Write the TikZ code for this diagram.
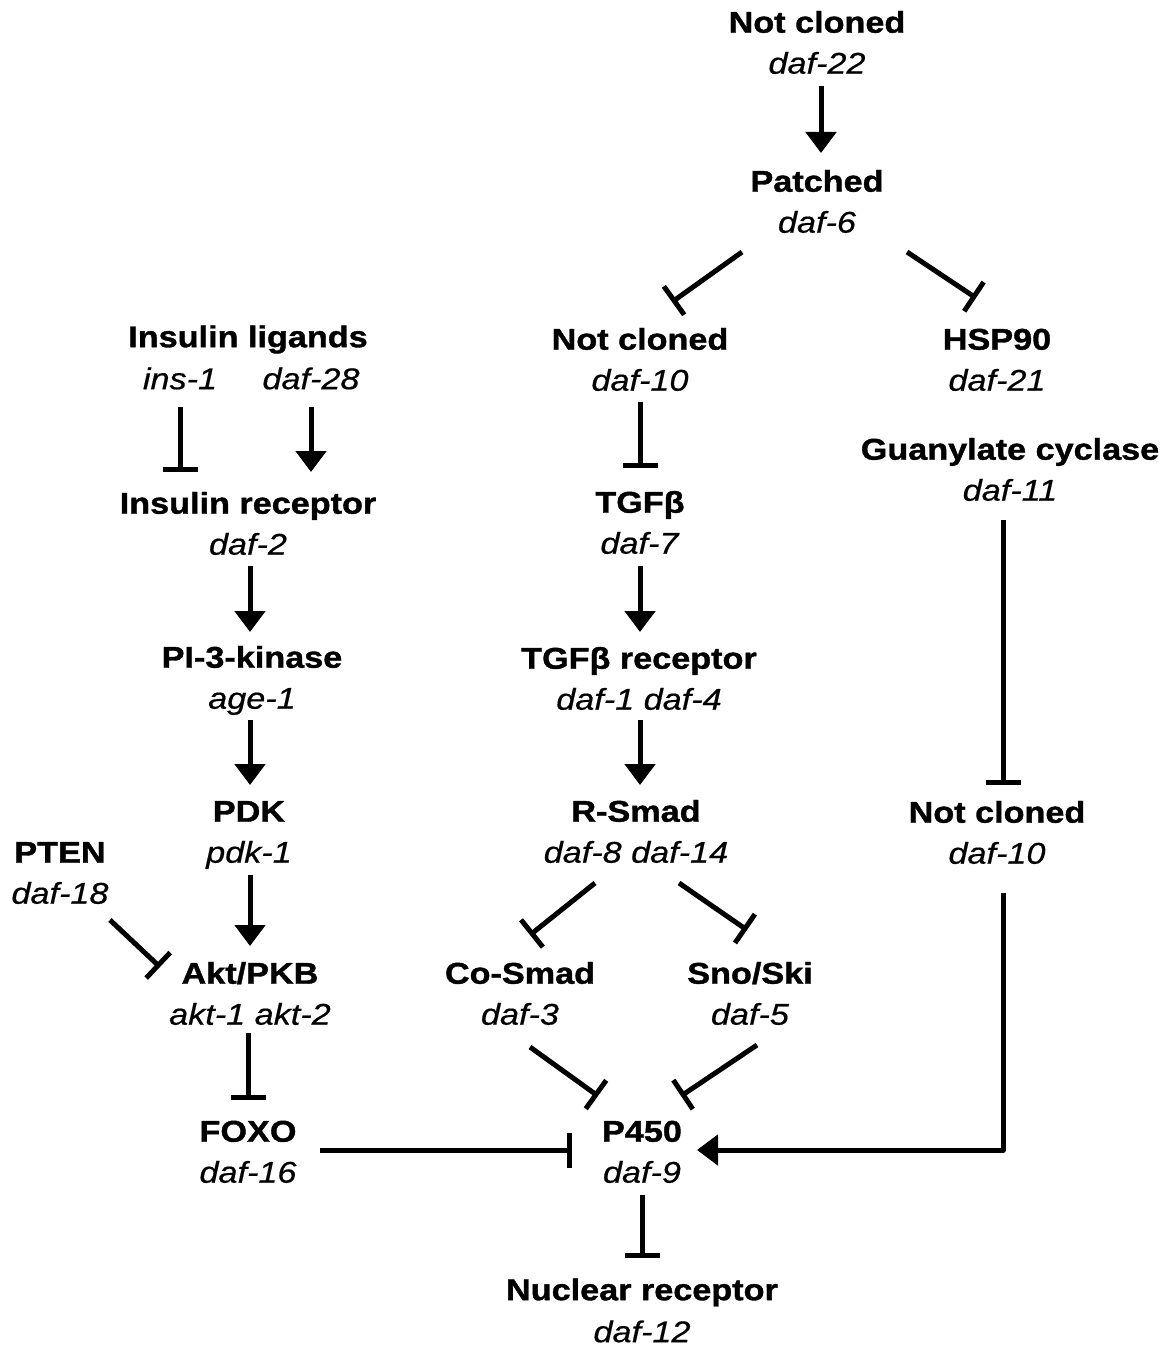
\documentclass[tikz,border=0pt]{standalone}
\usepackage{fontspec}
\setmainfont[FakeStretch=1.14, BoldFeatures={FakeBold=1.2}, ItalicFeatures={FakeBold=0.5}]{Liberation Sans}
\usetikzlibrary{arrows.meta,calc}
\tikzset{act/.style={line width=5pt, -{Triangle[length=21pt,width=30pt]}}}
\tikzset{inh/.style={line width=5pt, -{Bar[width=35pt]}}}
\tikzset{gene/.style={align=center, inner sep=0pt, font=\fontsize{30}{41}\selectfont}}
\newcommand{\gn}[2]{\textbf{#1}\strut\\\textit{#2}\strut}
\begin{document}
\begin{tikzpicture}[x=1pt, y=-1pt]
    \useasboundingbox (0,0) rectangle (1164,1348);
        % right branch
        \node[gene] (nc22) at (817,  45) {\gn{Not cloned}{daf-22}};
        \node[gene] (ptc) at (817, 204) {\gn{Patched}{daf-6}};
        \node[gene] (nc10) at (640, 362) {\gn{Not cloned}{daf-10}};
        \node[gene] (hsp) at (997, 362) {\gn{HSP90}{daf-21}};
        \node[gene] (guc) at (1010, 472) {\gn{Guanylate cyclase}{daf-11}};
        \node[gene] (ncb) at (997, 835) {\gn{Not cloned}{daf-10}};
        \node[gene] (tgf) at (640, 525) {\gn{TGFβ}{daf-7}};
        \node[gene] (tgfr) at (639, 681) {\gn{TGFβ receptor}{daf-1 daf-4}};
        \node[gene] (rsmad) at (636, 834) {\gn{R-Smad}{daf-8 daf-14}};
        \node[gene] (cosmad) at (520, 996) {\gn{Co-Smad}{daf-3}};
        \node[gene] (snoski) at (750, 996) {\gn{Sno/Ski}{daf-5}};
        \node[gene] (pfz) at (642, 1154) {\gn{P450}{daf-9}};
        \node[gene] (nucr) at (642, 1307) {\textbf{Nuclear receptor}\strut\\\textit{daf-12}\rule{0pt}{28.7pt}};

        % insulin branch
        \node[gene] (inl) at (248, 339) {\textbf{Insulin ligands}\strut};
        \node[gene] (ins1) at (180, 381) {\textit{ins-1}\strut};
        \node[gene] (daf28) at (311, 381) {\textit{daf-28}\strut};
        \node[gene] (inr) at (248, 526) {\gn{Insulin receptor}{daf-2}};
        \node[gene] (pik) at (252, 680) {\gn{PI-3-kinase}{age-1}};
        \node[gene] (pdk) at (249, 834) {\gn{PDK}{pdk-1}};
        \node[gene] (pten) at (60, 875) {\gn{PTEN}{daf-18}};
        \node[gene] (akt) at (250, 996) {\gn{Akt/PKB}{akt-1 akt-2}};
        \node[gene] (foxo) at (248, 1154) {\gn{FOXO}{daf-16}};

        \draw [act] ($(nc22)+(4,41)$) -- ($(ptc)+(4,-51)$);
        \draw [inh] ($(ptc)+(-75,48)$) -- ($(nc10)+(32,-60)$);
        \draw [inh] ($(ptc)+(90,48)$) -- ($(hsp)+(-21,-64)$);
        \draw [inh] ($(nc10)+(0,40)$) -- ($(tgf)+(0,-57)$);
        \draw [act] ($(tgf)+(0,41)$) -- ($(tgfr)+(1,-49)$);
        \draw [act] ($(tgfr)+(1,39)$) -- ($(rsmad)+(4,-49)$);
        \draw [inh] ($(rsmad)+(-41,49)$) -- ($(cosmad)+(10,-61)$);
        \draw [inh] ($(rsmad)+(43,49)$) -- ($(snoski)+(-3,-66)$);
        \draw [inh] ($(cosmad)+(10,51)$) -- ($(pfz)+(-44,-58)$);
        \draw [inh] ($(snoski)+(7,49)$) -- ($(pfz)+(39,-58)$);
        \draw [inh] ($(guc)+(-7,48)$) -- ($(ncb)+(6,-50)$);
        \draw [act, line join=round] ($(ncb)+(6,58)$) |- ($(pfz)+(55,-4)$);
        \draw [inh] ($(pfz)+(0,41)$) -- ($(nucr)+(0,-49)$);

        \draw [inh] ($(ins1)+(0,26)$) -- ($(ins1)+(0,91)$);
        \draw [act] ($(daf28)+(0,26)$) -- ($(daf28)+(0,91)$);
        \draw [act] ($(inr)+(2,40)$) -- ($(pik)+(-2,-48)$);
        \draw [act] ($(pik)+(-2,40)$) -- ($(pdk)+(1,-49)$);
        \draw [act] ($(pdk)+(1,41)$) -- ($(akt)+(0,-50)$);
        \draw [inh] ($(pten)+(50,45)$) -- ($(akt)+(-90,-29)$);
        \draw [inh] ($(akt)+(-2,37)$) -- ($(foxo)+(0,-54)$);
        \draw [inh] ($(foxo)+(72,-4)$) -- ($(pfz)+(-70,-4)$);
\end{tikzpicture}
\end{document}
